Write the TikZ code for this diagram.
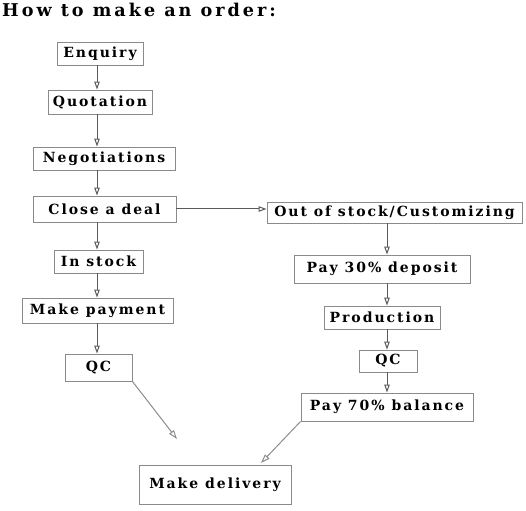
\documentclass[tikz,border=0pt]{standalone}
\usepackage{fontspec}
\setmainfont{DejaVu Serif}
\newfontfamily\boxfont[LetterSpace=14]{DejaVu Serif Bold}
\newfontfamily\titlefont[LetterSpace=17]{DejaVu Serif Bold}
\usetikzlibrary{arrows.meta,calc}
\definecolor{boxline}{HTML}{8A8A8A}
\definecolor{arrline}{HTML}{5A5A5A}
\definecolor{diagline}{HTML}{8C8C8C}
\begin{document}
\begin{tikzpicture}[x=1pt,y=-1pt,
  box/.style={draw=boxline,line width=0.9pt,inner sep=0pt,font=\boxfont\fontsize{14}{16}\selectfont,text=black},
  arr/.style={draw=arrline,line width=1pt,-{Triangle[open,length=8pt,width=5.5pt]}},
  darr/.style={draw=diagline,line width=1pt,-{Triangle[open,length=9pt,width=6pt]}}]
\useasboundingbox (0,0) rectangle (526,510);
\node[anchor=west,font=\titlefont\fontsize{17.6}{19}\selectfont,inner sep=0pt] (title) at (2,9.5) {How to make an order:};
% left column
\node[box,minimum width=86,minimum height=23] (enq) at (100,53.5) {Enquiry};
\node[box,minimum width=104,minimum height=24] (quo) at (100,102) {Quotation};
\node[box,minimum width=142,minimum height=23] (neg) at (104,158.5) {Negotiations};
\node[box,minimum width=143,minimum height=26] (close) at (104.5,209) {Close a deal};
\node[box,minimum width=89,minimum height=23] (instock) at (98.5,261.5) {In stock};
\node[box,minimum width=151,minimum height=25] (pay) at (97.5,310.5) {Make payment};
\node[box,minimum width=67,minimum height=27] (qcl) at (98.5,367.5) {QC};
\node[box,minimum width=152,minimum height=39] (deliv) at (215,484.5) {Make delivery};
% right column
\node[box,minimum width=255,minimum height=21] (oos) at (394.5,212.5) {Out of stock/Customizing};
\node[box,minimum width=176,minimum height=28] (dep) at (382,269) {Pay 30\% deposit};
\node[box,minimum width=116,minimum height=23] (prod) at (382,317.5) {Production};
\node[box,minimum width=58,minimum height=22] (qcr) at (388,361) {QC};
\node[box,minimum width=172,minimum height=28] (bal) at (387,407) {Pay 70\% balance};
% column coordinates
\coordinate (xl) at (97,0);
\coordinate (xr) at (387,0);
\coordinate (endl) at (177,439);
\coordinate (endr) at (261,463);
% arrows
\draw[arr] (enq.south -| xl) -- (quo.north -| xl);
\draw[arr] (quo.south -| xl) -- (neg.north -| xl);
\draw[arr] (neg.south -| xl) -- (close.north -| xl);
\draw[arr] (close.south -| xl) -- (instock.north -| xl);
\draw[arr] (instock.south -| xl) -- (pay.north -| xl);
\draw[arr] (pay.south -| xl) -- (qcl.north -| xl);
\draw[arr] (close.east) -- (oos.west |- close.east);
\draw[arr] (oos.south -| xr) -- (dep.north -| xr);
\draw[arr] (dep.south -| xr) -- (prod.north -| xr);
\draw[arr] (prod.south -| xr) -- (qcr.north -| xr);
\draw[arr] (qcr.south -| xr) -- (bal.north -| xr);
\draw[darr] (qcl.south east) -- (endl);
\draw[darr] (bal.south west) -- (endr);
\end{tikzpicture}
\end{document}
